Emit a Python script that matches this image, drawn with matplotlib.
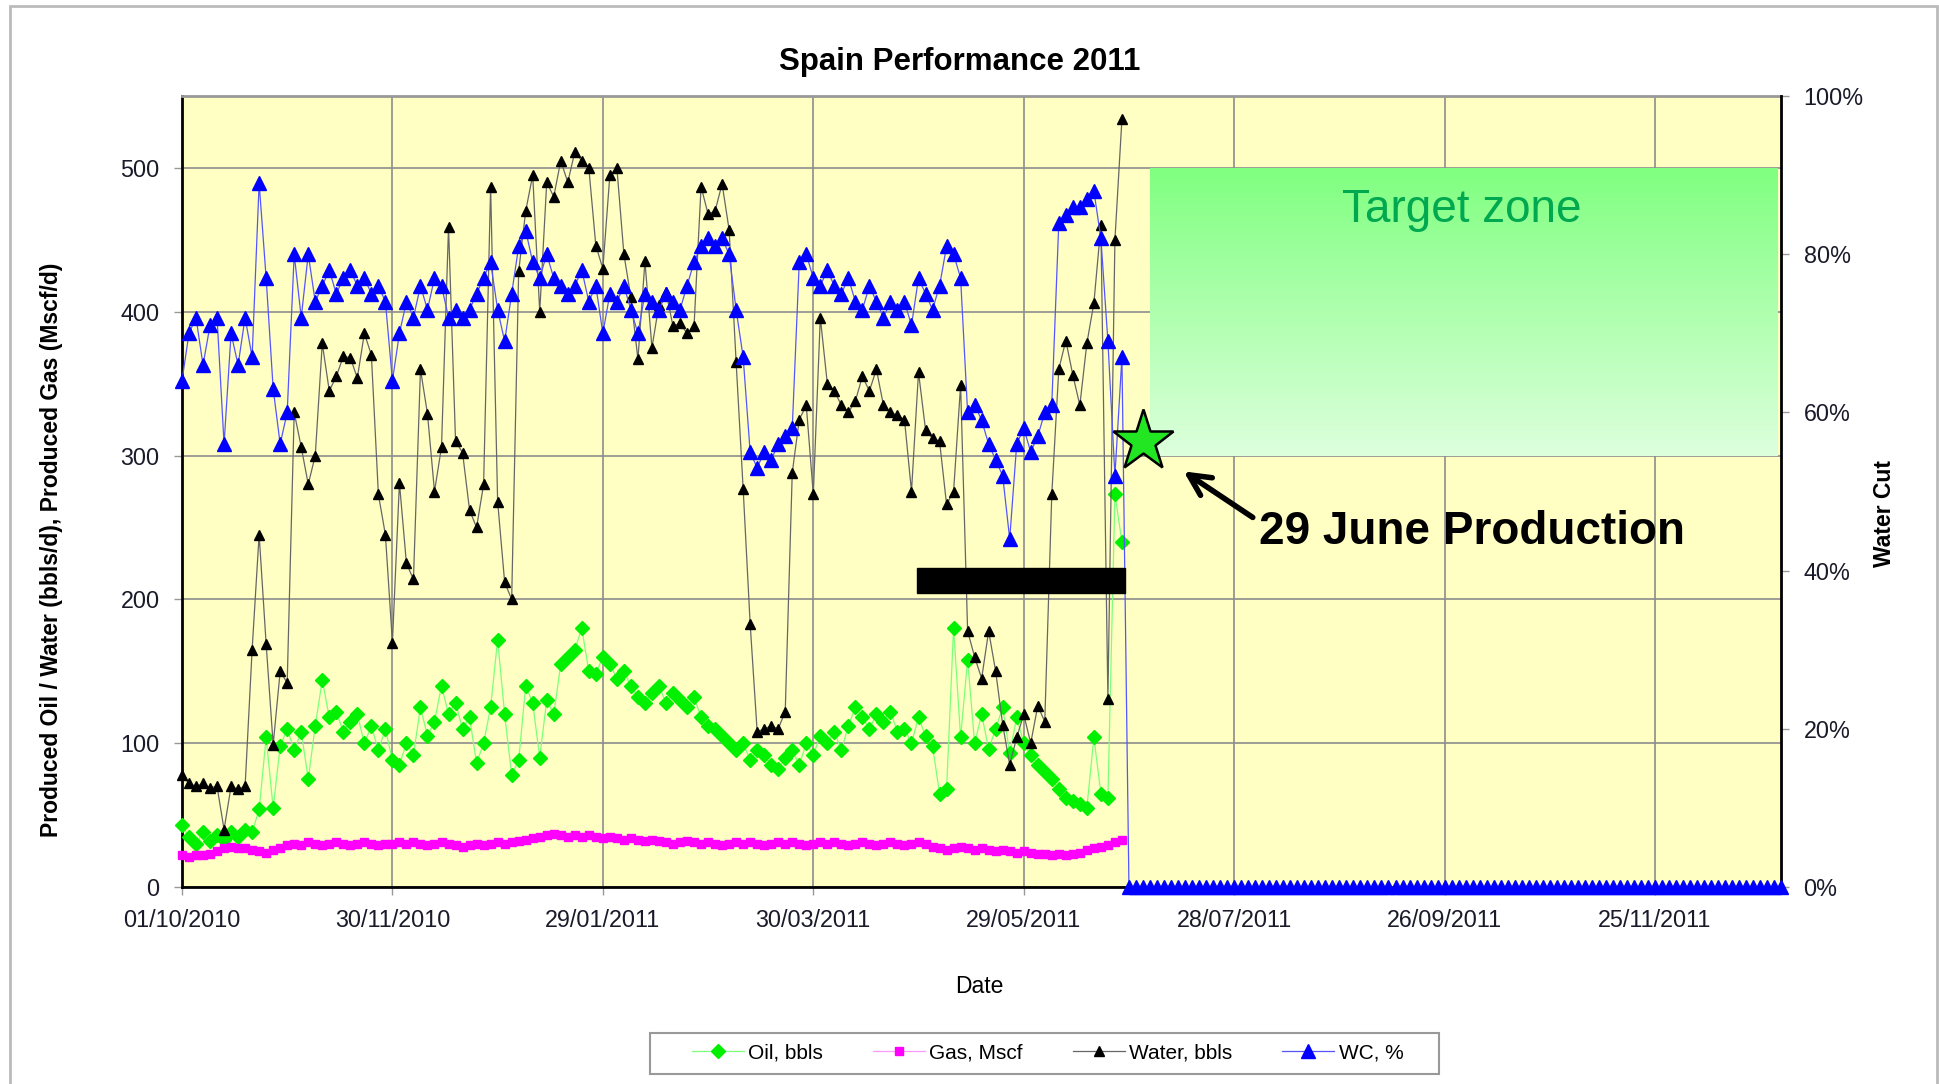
import matplotlib
matplotlib.use('Agg')
import matplotlib.pyplot as plt
import matplotlib.dates as mdates
from matplotlib.colors import LinearSegmentedColormap
from matplotlib.patches import Rectangle
import numpy as np
import pandas as pd

plt.rcParams['font.family'] = ['Liberation Sans', 'DejaVu Sans']

# daily report, read every 2nd day off the chart
start_date = '2010-10-01'
step_days = 2

oil_bbls = [
    43, 35, 30, 38, 32, 36, 33, 38, 35, 40,
    38, 54, 104, 55, 98, 110, 95, 108, 75, 112,
    144, 118, 122, 108, 115, 120, 100, 112, 95, 110,
    88, 85, 100, 92, 125, 105, 115, 140, 120, 128,
    110, 118, 86, 100, 125, 172, 120, 78, 88, 140,
    128, 90, 130, 120, 155, 160, 165, 180, 150, 148,
    160, 155, 145, 150, 140, 132, 128, 135, 140, 128,
    135, 130, 125, 132, 118, 112, 110, 105, 100, 95,
    100, 88, 95, 92, 85, 82, 90, 95, 85, 100,
    92, 105, 100, 108, 95, 112, 125, 118, 110, 120,
    115, 122, 108, 110, 100, 118, 105, 98, 65, 68,
    180, 104, 158, 100, 120, 96, 110, 125, 93, 118,
    100, 92, 85, 80, 75, 68, 62, 60, 58, 55,
    104, 65, 62, 273, 240,
]
gas_mscf = [
    22, 21, 22, 22, 23, 25, 27, 28, 27, 27,
    26, 25, 24, 26, 27, 29, 30, 29, 31, 30,
    29, 30, 31, 30, 29, 30, 31, 30, 29, 30,
    30, 31, 30, 31, 30, 29, 30, 31, 30, 29,
    28, 29, 30, 29, 30, 31, 30, 31, 32, 33,
    34, 35, 36, 37, 36, 35, 36, 35, 36, 35,
    34, 35, 34, 33, 34, 33, 32, 33, 32, 31,
    30, 31, 32, 31, 30, 31, 30, 29, 30, 31,
    30, 31, 30, 29, 30, 31, 30, 31, 30, 29,
    30, 31, 30, 31, 30, 29, 30, 31, 30, 29,
    30, 31, 30, 29, 30, 31, 30, 28, 27, 26,
    27, 28, 27, 26, 27, 26, 25, 26, 25, 24,
    25, 24, 23, 23, 22, 23, 22, 23, 24, 26,
    27, 28, 29, 31, 33,
]
water_bbls = [
    78, 72, 70, 72, 69, 70, 40, 70, 68, 70,
    165, 245, 169, 99, 150, 142, 330, 306, 280, 300,
    378, 345, 355, 369, 368, 354, 385, 370, 273, 245,
    170, 281, 225, 214, 360, 329, 275, 306, 459, 310,
    302, 262, 250, 280, 487, 268, 212, 200, 428, 470,
    495, 400, 490, 480, 505, 490, 511, 505, 500, 446,
    430, 495, 500, 440, 410, 367, 435, 375, 405, 414,
    390, 392, 385, 390, 487, 468, 470, 489, 457, 365,
    277, 183, 108, 110, 112, 110, 122, 288, 325, 335,
    273, 396, 350, 345, 335, 330, 338, 355, 345, 360,
    335, 330, 328, 325, 275, 358, 318, 312, 310, 266,
    275, 349, 178, 160, 145, 178, 150, 113, 85, 104,
    120, 100, 126, 115, 273, 360, 380, 356, 335, 378,
    406, 460, 131, 450, 534,
]
wc_pct = [
    64, 70, 72, 66, 71, 72, 56, 70, 66, 72,
    67, 89, 77, 63, 56, 60, 80, 72, 80, 74,
    76, 78, 75, 77, 78, 76, 77, 75, 76, 74,
    64, 70, 74, 72, 76, 73, 77, 76, 72, 73,
    72, 73, 75, 77, 79, 73, 69, 75, 81, 83,
    79, 77, 80, 77, 76, 75, 76, 78, 74, 76,
    70, 75, 74, 76, 73, 70, 75, 74, 73, 75,
    74, 73, 76, 79, 81, 82, 81, 82, 80, 73,
    67, 55, 53, 55, 54, 56, 57, 58, 79, 80,
    77, 76, 78, 76, 75, 77, 74, 73, 76, 74,
    72, 74, 73, 74, 71, 77, 75, 73, 76, 81,
    80, 77, 60, 61, 59, 56, 54, 52, 44, 56,
    58, 55, 57, 60, 61, 84, 85, 86, 86, 87,
    88, 82, 69, 52, 67,
]
# water cut reported as 0 for the rest of the year
wc_after_pct = [0] * 94

x_tick_labels = ['01/10/2010', '30/11/2010', '29/01/2011', '30/03/2011',
                 '29/05/2011', '28/07/2011', '26/09/2011', '25/11/2011']
left_ticks = [0, 100, 200, 300, 400, 500]
right_ticks = [0, 20, 40, 60, 80, 100]

# annotation shapes, in days from start / left axis units
target_days = (276, 455)
target_vals = (300, 500)
bar_days = (209.5, 268.9)
bar_vals = (204.5, 222)
star_day, star_val = 274, 310


def day(d):
    # days from start -> matplotlib date number
    return mdates.date2num(pd.Timestamp(start_date) + pd.Timedelta(days=d))


n = len(oil_bbls)
dates = pd.Timestamp(start_date) + pd.to_timedelta(np.arange(n) * step_days, unit='D')
dates_after = dates[-1] + pd.to_timedelta((np.arange(len(wc_after_pct)) + 1) * step_days, unit='D')
wc_dates = dates.append(dates_after)
wc_all = list(wc_pct) + list(wc_after_pct)

fig = plt.figure(figsize=(19.4, 10.84), dpi=100)
ax = fig.add_axes([0.0938, 0.1817, 0.8244, 0.7297])
ax2 = ax.twinx()

ax.set_facecolor('#FFFFC4')
ax.set_axisbelow(True)
ax.grid(True, color='#8C8C8C', linewidth=1.2)

l_oil, = ax.plot(dates, oil_bbls, color='#7CFF7C', lw=0.9, marker='D', ms=6.8,
                 mfc='#00F000', mec='#00F000', label='Oil, bbls', clip_on=False, zorder=3)
l_gas, = ax.plot(dates, gas_mscf, color='#FF99FF', lw=0.9, marker='s', ms=6,
                 mfc='#FF00FF', mec='#FF00FF', label='Gas, Mscf', clip_on=False, zorder=3)
l_wat, = ax.plot(dates, water_bbls, color='#666666', lw=0.9, marker='^', ms=6.5,
                 mfc='black', mec='black', label='Water, bbls', clip_on=False, zorder=4)
l_wc, = ax2.plot(wc_dates, wc_all, color='#5555FF', lw=0.9, marker='^', ms=10.5,
                 mfc='#0000FF', mec='#0000FF', label='WC, %', clip_on=False, zorder=3)

# target zone gradient
cmap = LinearSegmentedColormap.from_list('tz', ['#DDFFDD', '#80FF80'])
grad = np.linspace(0, 1, 256).reshape(-1, 1)
ax.imshow(grad, cmap=cmap, aspect='auto', origin='lower', zorder=1.5,
          extent=[day(target_days[0]), day(target_days[1]), target_vals[0], target_vals[1]])

# black bar, star, arrow and notes on top of everything
ax2.add_patch(Rectangle((day(bar_days[0]), bar_vals[0]),
                        bar_days[1] - bar_days[0], bar_vals[1] - bar_vals[0],
                        transform=ax.transData, color='black', zorder=6))
ax2.plot([day(star_day)], [star_val], marker='*', ms=46, mfc='#22E622', mec='black',
         mew=1.8, transform=ax.transData, zorder=7, clip_on=False)
ax2.annotate('', xy=(day(285.6), 289), xytext=(day(305.3), 257),
             xycoords=ax.transData, textcoords=ax.transData,
             arrowprops=dict(arrowstyle='->', lw=4, color='black', mutation_scale=38,
                             shrinkA=0, shrinkB=0), zorder=7)
ax2.text(day(307), 247, '29 June Production', transform=ax.transData, fontsize=33,
         fontweight='bold', ha='left', va='center', zorder=7)
ax2.text(day(365), 471, 'Target zone', transform=ax.transData, fontsize=33,
         color='#00A850', ha='center', va='center', zorder=7)

# axes
ax.set_xlim(day(0), day(456))
ax.set_ylim(0, 550)
ax2.set_ylim(0, 100)
tick_dates = pd.to_datetime(x_tick_labels, format='%d/%m/%Y')
ax.set_xticks(tick_dates)
ax.xaxis.set_major_formatter(mdates.DateFormatter('%d/%m/%Y'))
ax.set_yticks(left_ticks)
ax2.set_yticks(right_ticks)
ax2.set_yticklabels([f'{t}%' for t in right_ticks])

ax.tick_params(axis='both', length=6, width=1, color='#999999', labelsize=16.8, labelcolor='#1A1A2A')
ax.tick_params(axis='y', pad=10)
ax.tick_params(axis='x', pad=10)
ax2.tick_params(axis='y', length=6, width=1, color='#999999', labelsize=16.8, labelcolor='#1A1A2A', pad=10)

for side in ['left', 'bottom']:
    ax.spines[side].set_color('black')
    ax.spines[side].set_linewidth(2)
ax.spines['top'].set_color('#999999')
ax.spines['top'].set_linewidth(2)
ax.spines['right'].set_visible(False)
for side in ['left', 'bottom', 'top']:
    ax2.spines[side].set_visible(False)
ax2.spines['right'].set_color('black')
ax2.spines['right'].set_linewidth(2)

fig.text(0.4948, 0.943, 'Spain Performance 2011', fontsize=22.5, fontweight='bold',
         ha='center', va='center')
fig.text(0.0268, 0.4926, 'Produced Oil / Water (bbls/d), Produced Gas (Mscf/d)',
         fontsize=16.5, fontweight='bold', rotation=90, ha='center', va='center')
fig.text(0.9712, 0.5267, 'Water Cut', fontsize=16.5, fontweight='bold', rotation=90,
         ha='center', va='center')
fig.text(0.505, 0.0904, 'Date', fontsize=16.5, ha='center', va='center')

# legend box drawn separately so the side padding matches
fig.add_artist(Rectangle((650 / 1940, 1 - 1074 / 1084), 789 / 1940, 41 / 1084,
                         transform=fig.transFigure, facecolor='white', edgecolor='#999999',
                         lw=1.5, zorder=1))
leg = fig.legend(handles=[l_oil, l_gas, l_wat, l_wc], loc='center', ncol=4,
                 bbox_to_anchor=(0.540, 0.0285), fontsize=15, frameon=False,
                 handlelength=2.5, handletextpad=0.2, columnspacing=2.4)
leg.set_zorder(2)

# outer chart frame
fig.add_artist(Rectangle((10 / 1940, -0.05), 1927 / 1940, 1.05 - 6 / 1084,
                         transform=fig.transFigure, fill=False, edgecolor='#BBBBBB', lw=2))

fig.savefig('out.png', dpi=100)
